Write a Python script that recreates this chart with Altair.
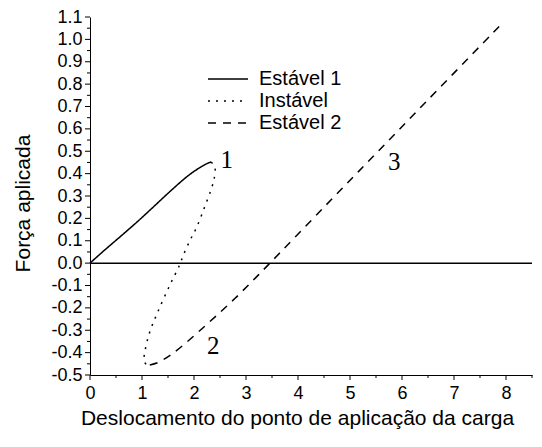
import altair as alt
import pandas as pd

# Series
est1_x = [0.0, 0.25, 0.55, 0.9, 1.2, 1.5, 1.83, 2.0, 2.15, 2.25, 2.33]
est1_y = [0.0, 0.052, 0.112, 0.183, 0.247, 0.312, 0.38, 0.41, 0.432, 0.445, 0.452]

inst_x = [2.33, 2.40, 2.39, 2.33, 2.2, 2.05, 1.92, 1.79, 1.72, 1.54, 1.3, 1.15, 1.06, 1.04, 1.08, 1.15]
inst_y = [0.452, 0.43, 0.38, 0.33, 0.248, 0.16, 0.10, 0.033, -0.01, -0.096, -0.22, -0.307, -0.39, -0.435, -0.452, -0.455]

est2_x = [1.15, 1.3, 1.54, 1.8, 2.12, 2.44, 2.8, 3.14, 3.46, 4.5, 5.5, 6.5, 7.92]
est2_y = [-0.455, -0.445, -0.412, -0.365, -0.3, -0.233, -0.155, -0.076, 0.0, 0.25, 0.49, 0.73, 1.07]

series_names = ["Estável 1", "Instável", "Estável 2"]

label_text = ["1", "2", "3"]
label_x = [2.63, 2.37, 5.85]
label_y = [0.46, -0.37, 0.45]

x_major = list(range(0, 9))
x_minor = [round(i + 0.5, 2) for i in range(0, 9)]  # 0.5, 1.5, ... 8.5
y_major = [round(-0.5 + i * 0.1, 2) for i in range(0, 17)]
y_minor = [round(-0.45 + i * 0.1, 2) for i in range(0, 16)]

rows = []
for name, xs, ys in [(series_names[0], est1_x, est1_y),
                     (series_names[1], inst_x, inst_y),
                     (series_names[2], est2_x, est2_y)]:
    for i, (xv, yv) in enumerate(zip(xs, ys)):
        rows.append({"series": name, "x": xv, "y": yv, "i": i})
df = pd.DataFrame(rows)
labels_df = pd.DataFrame({"x": label_x, "y": label_y, "t": label_text})
zero_df = pd.DataFrame({"y": [0.0]})

W, H = 442, 358
FONT = "Liberation Sans"
TICK_FS = 18
TITLE_FS = 21
X_TITLE = "Deslocamento do ponto de aplicação da carga"
Y_TITLE = "Força aplicada"

x_scale = alt.Scale(domain=[0, 8.5], nice=False, zero=False)
y_scale = alt.Scale(domain=[-0.5, 1.1], nice=False, zero=False)

common = dict(grid=False, domainColor="black", labelColor="black",
              labelFont=FONT, labelFontSize=TICK_FS, titleFont=FONT, titleFontSize=TITLE_FS,
              titleFontWeight="normal", titleColor="black", labelOverlap=False,
              labelFlush=False, ticks=False, domainWidth=1)

x_axis = alt.Axis(
    orient="bottom", values=x_major, format="d", tickSize=5, labelPadding=9,
    titleX=207, titleY=49, titleBaseline="alphabetic", titleAlign="center",
    **common,
)
y_axis = alt.Axis(
    orient="left", values=y_major, tickSize=5, labelPadding=8,
    labelExpr="replace(format(datum.value, '.1f'), '\u2212', '-')",
    titleX=-61, titleY=186, titleBaseline="alphabetic", titleAngle=270, titleAlign="center",
    **common,
)


def X(field):
    return alt.X(field, scale=x_scale, axis=x_axis, title=X_TITLE)


def Y(field):
    return alt.Y(field, scale=y_scale, axis=y_axis, title=Y_TITLE)


lines = alt.Chart(df).mark_line(color="black", strokeWidth=1.5, interpolate="catmull-rom").encode(
    x=X("x:Q"),
    y=Y("y:Q"),
    strokeDash=alt.StrokeDash(
        "series:N",
        scale=alt.Scale(domain=series_names, range=[[1, 0], [2, 6], [8, 7]]),
        legend=alt.Legend(
            title=None, orient="none", legendX=127, legendY=51, padding=0,
            symbolType="M-2,0H2", symbolSize=400, symbolStrokeWidth=1.5,
            symbolStrokeColor="black", labelOffset=20, rowPadding=1,
            labelFont=FONT, labelFontSize=20, labelColor="black",
        ),
    ),
    order=alt.Order("i:Q"),
    detail="series:N",
)

zero_line = alt.Chart(zero_df).mark_rule(color="black", strokeWidth=1.5).encode(
    y=Y("y:Q")
)

texts = alt.Chart(labels_df).mark_text(
    font="Liberation Serif", fontSize=25, color="black"
).encode(
    x=X("x:Q"),
    y=Y("y:Q"),
    text="t:N",
)


# Axis tick marks (major and minor), placed through the shared scales
def y_ticks(vals, length):
    return alt.Chart(pd.DataFrame({"v": vals})).mark_rule(color="black", strokeWidth=1).encode(
        y=Y("v:Q"),
        x=alt.value(-length), x2=alt.value(0),
    )


def x_ticks(vals, length):
    return alt.Chart(pd.DataFrame({"v": vals})).mark_rule(color="black", strokeWidth=1).encode(
        x=X("v:Q"),
        y=alt.value(H), y2=alt.value(H + length),
    )


chart = alt.layer(
    zero_line, lines, texts,
    y_ticks(y_major, 5), y_ticks(y_minor, 3),
    x_ticks(x_major, 5), x_ticks(x_minor, 3),
).properties(
    width=W, height=H,
    autosize=alt.AutoSizeParams(type="none"),
    padding={"left": 82, "top": 9, "right": 2, "bottom": 60},
).configure_view(stroke=None)

chart.save("out.html", embed_options={"renderer": "svg", "actions": False})
